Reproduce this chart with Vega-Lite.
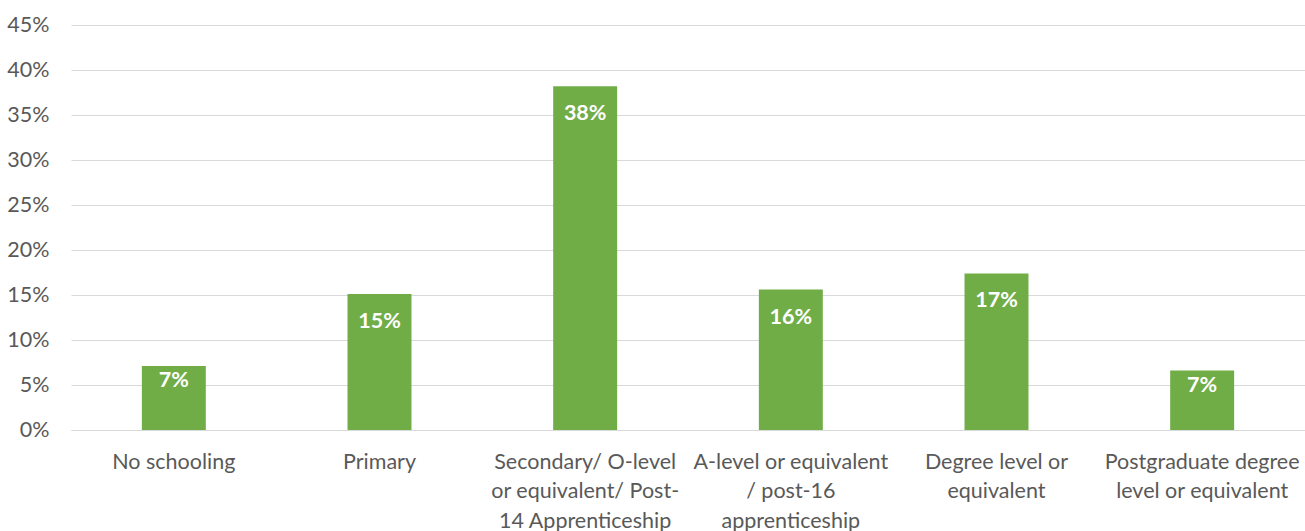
{
  "$schema": "https://vega.github.io/schema/vega-lite/v6.json",
  "width": 1234,
  "height": 405,
  "autosize": {"type": "none"},
  "padding": {"left": 71, "top": 25, "right": 0, "bottom": 101},
  "config": {"view": {"stroke": null}, "font": "Lato"},
  "data": {
    "values": [
      {"level": "No schooling", "share": 0.071},
      {"level": "Primary", "share": 0.151},
      {"level": "Secondary/ O-level|or equivalent/ Post-|14 Apprenticeship", "share": 0.382},
      {"level": "A-level or equivalent|/ post-16|apprenticeship", "share": 0.156},
      {"level": "Degree level or|equivalent", "share": 0.174},
      {"level": "Postgraduate degree|level or equivalent", "share": 0.066}
    ]
  },
  "encoding": {
    "x": {
      "field": "level",
      "type": "nominal",
      "sort": null,
      "scale": {"paddingInner": 0.689, "paddingOuter": 0.3445},
      "axis": {
        "title": null,
        "labelAngle": 0,
        "labelExpr": "split(datum.label, '|')",
        "labelFontSize": 21.5,
        "labelColor": "#595959",
        "labelLineHeight": 29.5,
        "labelPadding": 21,
        "labelBaseline": "top",
        "labelLimit": 0,
        "labelOverlap": false,
        "ticks": false,
        "domainColor": "#d9d9d9"
      }
    },
    "y": {
      "field": "share",
      "type": "quantitative",
      "scale": {"domain": [0, 0.45]},
      "axis": {
        "title": null,
        "format": ".0%",
        "values": [0, 0.05, 0.1, 0.15, 0.2, 0.25, 0.3, 0.35, 0.4, 0.45],
        "grid": true,
        "gridColor": "#d9d9d9",
        "domain": false,
        "ticks": false,
        "labelFontSize": 21.5,
        "labelColor": "#595959",
        "labelPadding": 22
      }
    }
  },
  "layer": [
    {"mark": {"type": "bar", "color": "#70ad47"}},
    {
      "mark": {
        "type": "text",
        "color": "white",
        "fontWeight": "bold",
        "fontSize": 21.5,
        "baseline": "middle",
        "dy": {"expr": "datum.share < 0.1 ? 15 : 28"}
      },
      "encoding": {"text": {"field": "share", "format": ".0%"}}
    }
  ]
}
